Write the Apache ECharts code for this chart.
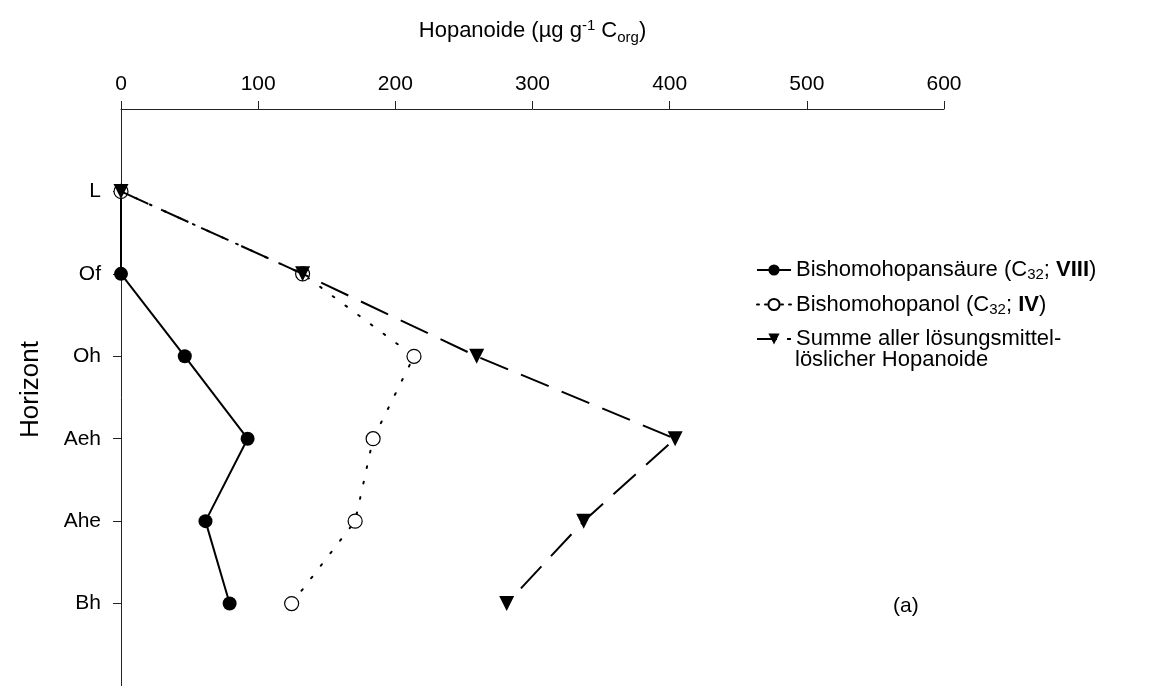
<!DOCTYPE html>
<html>
<head>
<meta charset="utf-8">
<script src="https://cdn.jsdelivr.net/npm/echarts@6/dist/echarts.min.js"></script>
<style>
  html, body { margin: 0; padding: 0; background: #fff; }
  #chart { width: 1176px; height: 686px; }
</style>
</head>
<body>
<div id="chart"></div>
<script>
// Soil horizons, top to bottom
const horizons = ['L', 'Of', 'Oh', 'Aeh', 'Ahe', 'Bh'];

// Concentrations in µg per g organic carbon
const bishomohopansaeure = [0, 0, 46.5, 92.3, 61.6, 79.2];
const bishomohopanol = [0, 132.4, 213.6, 183.8, 170.7, 124.4];
const summeHopanoide = [0, 132.4, 259.3, 404, 337.3, 281.2];

const xTicks = [0, 100, 200, 300, 400, 500, 600];

// Category slots with an empty slot above and below the horizons
const ySlots = [''].concat(horizons, ['']);

const FONT = '"Liberation Sans", Arial, sans-serif';
const LEGEND_FS = 22;

function pairs(values) {
  return values.map((v, i) => [v, horizons[i]]);
}

const legendNames = {
  'Bishomohopansäure': 'Bishomohopansäure (C{sub|32}; {b|VIII})',
  'Bishomohopanol': 'Bishomohopanol (C{sub|32}; {b|IV})',
  'Summe': 'Summe aller lösungsmittel-'
};

const chart = echarts.init(document.getElementById('chart'), null, { renderer: 'canvas' });

chart.setOption({
  animation: false,
  backgroundColor: '#ffffff',
  textStyle: { fontFamily: FONT, color: '#000' },
  grid: { left: 121, right: 232, top: 109, bottom: 0, containLabel: false },
  xAxis: {
    type: 'value',
    position: 'top',
    min: xTicks[0],
    max: xTicks[xTicks.length - 1],
    interval: xTicks[1] - xTicks[0],
    name: 'Hopanoide (µg g{sup|-1} C{sub|org})',
    nameLocation: 'middle',
    nameGap: 64,
    nameTextStyle: {
      fontFamily: FONT, fontSize: 22, color: '#000',
      rich: {
        sup: { fontFamily: FONT, fontSize: 15, color: '#000', padding: [0, 0, 10, 0] },
        sub: { fontFamily: FONT, fontSize: 15, color: '#000', padding: [13, 0, 0, 0] }
      }
    },
    axisLine: { show: true, lineStyle: { color: '#222', width: 1 } },
    axisTick: { show: true, inside: false, length: 8, lineStyle: { color: '#222', width: 1 } },
    axisLabel: { fontFamily: FONT, fontSize: 21, color: '#000', margin: 14 },
    splitLine: { show: false }
  },
  yAxis: {
    type: 'category',
    data: ySlots,
    inverse: true,
    boundaryGap: false,
    name: 'Horizont',
    nameLocation: 'middle',
    nameRotate: 90,
    nameGap: 77,
    nameTextStyle: { fontFamily: FONT, fontSize: 26, color: '#000', padding: [0, 0, 0, 16] },
    axisLine: { show: true, onZero: false, lineStyle: { color: '#222', width: 1 } },
    axisTick: {
      show: true, inside: false, length: 8,
      alignWithLabel: true,
      interval: (i, v) => v !== '',
      lineStyle: { color: '#222', width: 1 }
    },
    axisLabel: { fontFamily: FONT, fontSize: 21, color: '#000', margin: 20, interval: 0 },
    splitLine: { show: false }
  },
  legend: {
    orient: 'vertical',
    left: 751,
    top: 254,
    itemWidth: 34,
    itemHeight: 14,
    itemGap: 11,
    selectedMode: false,
    data: [
      { name: 'Bishomohopansäure' },
      { name: 'Bishomohopanol', lineStyle: { type: [2, 6] } },
      { name: 'Summe', lineStyle: { type: [20, 10] } }
    ],
    formatter: name => legendNames[name],
    textStyle: {
      fontFamily: FONT, fontSize: LEGEND_FS, color: '#000',
      rich: {
        sub: { fontFamily: FONT, fontSize: 15, color: '#000', padding: [10, 0, 0, 0] },
        b: { fontFamily: FONT, fontSize: LEGEND_FS, color: '#000', fontWeight: 'bold' }
      }
    }
  },
  graphic: [
    {
      // second line of the third legend entry
      type: 'text',
      left: 795,
      top: 349,
      style: { text: 'löslicher Hopanoide', fontFamily: FONT, fontSize: LEGEND_FS, fill: '#000' }
    },
    {
      type: 'text',
      left: 893,
      top: 596,
      style: { text: '(a)', fontFamily: FONT, fontSize: 21, fill: '#000' }
    }
  ],
  series: [
    {
      name: 'Bishomohopansäure',
      type: 'line',
      data: pairs(bishomohopansaeure),
      symbol: 'circle',
      symbolSize: 14,
      itemStyle: { color: '#000', borderColor: '#000', borderWidth: 0 },
      lineStyle: { color: '#000', width: 2, type: 'solid' },
      z: 2
    },
    {
      name: 'Bishomohopanol',
      type: 'line',
      data: pairs(bishomohopanol),
      symbol: 'circle',
      symbolSize: 14,
      itemStyle: { color: '#fff', borderColor: '#000', borderWidth: 1.2 },
      lineStyle: { color: '#000', width: 2, type: [1.8, 14], cap: 'round' },
      z: 3
    },
    {
      name: 'Summe',
      type: 'line',
      data: pairs(summeHopanoide),
      symbol: 'triangle',
      symbolRotate: 180,
      symbolSize: 15,
      itemStyle: { color: '#000', borderColor: '#000', borderWidth: 0 },
      lineStyle: { color: '#000', width: 2, type: [30, 14] },
      z: 4
    }
  ]
});
</script>
</body>
</html>
